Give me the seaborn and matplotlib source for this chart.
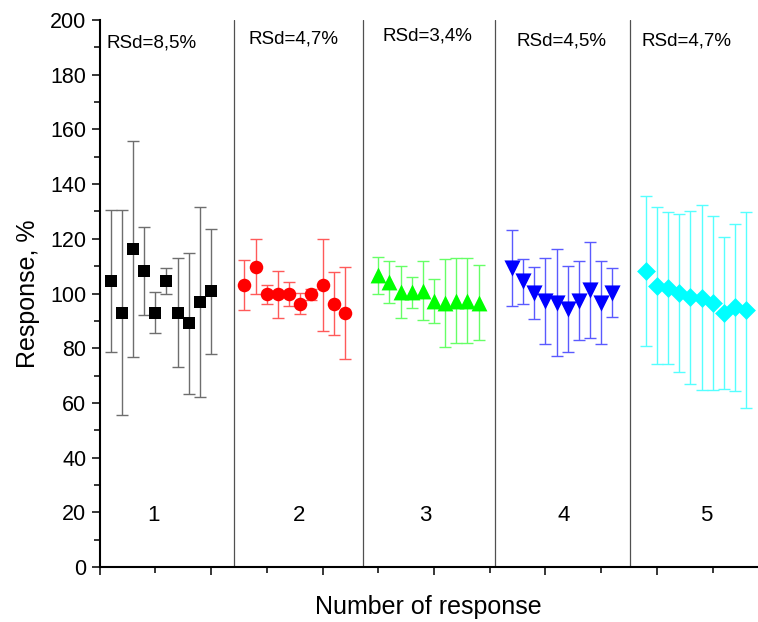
import matplotlib
matplotlib.use("Agg")
import matplotlib.pyplot as plt
import seaborn as sns
import pandas as pd
from matplotlib.ticker import MultipleLocator

# measured responses (%) and their error bars, 10 per series
x1 = list(range(1, 11))
x2 = list(range(13, 23))
x3 = list(range(25, 35))
x4 = list(range(37, 47))
x5 = list(range(49, 59))

resp1 = [104.7, 93.0, 116.2, 108.3, 93.0, 104.6, 93.0, 89.1, 96.9, 100.8]
err1 = [25.9, 37.5, 39.5, 16.2, 7.5, 4.7, 20.0, 25.8, 34.6, 22.8]
resp2 = [103.1, 109.8, 99.7, 99.7, 99.7, 96.3, 99.7, 103.1, 96.3, 92.9]
err2 = [9.0, 10.0, 3.4, 8.5, 4.4, 3.8, 2.0, 16.8, 11.6, 16.8]
resp3 = [106.6, 104.2, 100.4, 100.5, 101.1, 97.4, 96.5, 97.4, 97.4, 96.7]
err3 = [6.9, 7.8, 9.5, 5.7, 10.9, 8.0, 16.0, 15.5, 15.5, 13.7]
resp4 = [109.4, 104.4, 100.2, 97.4, 96.7, 94.4, 97.4, 101.3, 96.7, 100.3]
err4 = [13.9, 8.3, 9.6, 15.7, 19.6, 15.7, 14.5, 17.6, 15.3, 8.9]
resp5 = [108.3, 102.9, 102.0, 100.3, 98.6, 98.4, 96.5, 92.9, 95.0, 93.9]
err5 = [27.5, 28.8, 27.9, 28.9, 31.7, 33.8, 31.9, 27.8, 30.6, 35.9]

rsd_labels = ["RSd=8,5%", "RSd=4,7%", "RSd=3,4%", "RSd=4,5%", "RSd=4,7%"]
group_labels = ["1", "2", "3", "4", "5"]
separators = [12.05, 23.65, 35.45, 47.6]

sns.set_style("ticks")
plt.rcParams["font.family"] = ["Liberation Sans", "DejaVu Sans"]
plt.rcParams.update({"text.color": "black", "axes.labelcolor": "black",
                     "xtick.color": "black", "ytick.color": "black",
                     "axes.edgecolor": "black"})

fig = plt.figure(figsize=(7.58, 6.22), dpi=100)
ax = fig.add_axes([0.1313, 0.0884, 0.8687, 0.8794])

series = [
    (x1, resp1, err1, "black", "s", 64, "#6e6e6e"),
    (x2, resp2, err2, "red", "o", 95, "#ff5a5a"),
    (x3, resp3, err3, "#00ff00", "^", 130, "#66ff66"),
    (x4, resp4, err4, "blue", "v", 135, "#5a5aff"),
    (x5, resp5, err5, "cyan", "D", 92, "#55ffff"),
]

for xs, ys, es, col, mk, sz, ecol in series:
    df = pd.DataFrame({"n": xs, "resp": ys, "err": es})
    ax.errorbar(df["n"], df["resp"], yerr=df["err"], fmt="none",
                ecolor=ecol, elinewidth=1.0, capsize=4, capthick=1.0, zorder=2)
    sns.scatterplot(data=df, x="n", y="resp", marker=mk, s=sz, color=col,
                    edgecolor=col, linewidth=0, ax=ax, zorder=3, legend=False)

for xv in separators:
    ax.axvline(xv, color="#505050", lw=0.9, zorder=1)

rsd_pos = [(0.65, 191.6), (13.4, 193.0), (25.4, 194.0), (37.4, 192.3), (48.6, 192.3)]
for (tx, ty), lab in zip(rsd_pos, rsd_labels):
    ax.text(tx, ty, lab, fontsize=13.5, ha="left", va="center")

num_pos = [4.8, 17.9, 29.2, 41.6, 54.4]
for tx, lab in zip(num_pos, group_labels):
    ax.text(tx, 19, lab, fontsize=16, ha="center", va="center")

ax.set_xlim(0, 59.06)
ax.set_ylim(0, 200)
ax.yaxis.set_major_locator(MultipleLocator(20))
ax.yaxis.set_minor_locator(MultipleLocator(10))
ax.xaxis.set_major_locator(MultipleLocator(10))
ax.xaxis.set_minor_locator(MultipleLocator(5))
ax.tick_params(axis="both", which="major", direction="out", length=6, width=1.1, labelsize=15.5)
ax.tick_params(axis="both", which="minor", direction="out", length=4, width=1.1)
ax.tick_params(axis="x", which="both", labelbottom=False)

ax.spines["top"].set_visible(False)
ax.spines["right"].set_visible(False)
ax.spines["left"].set_linewidth(1.5)
ax.spines["bottom"].set_linewidth(1.5)

ax.set_xlabel("Number of response", fontsize=18, labelpad=14)
ax.set_ylabel("Response, %", fontsize=18, labelpad=7)

fig.savefig("out.png", dpi=100)
